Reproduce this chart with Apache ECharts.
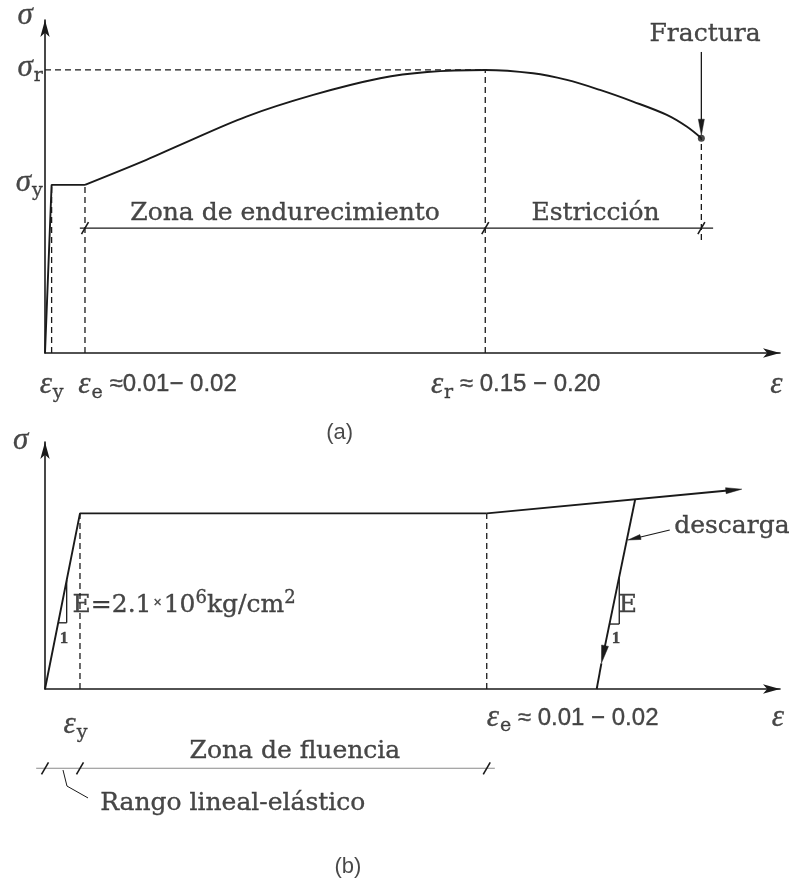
<!DOCTYPE html>
<html>
<head>
<meta charset="utf-8">
<script src="https://cdn.jsdelivr.net/npm/echarts@6/dist/echarts.min.js"></script>
<style>
  html, body { margin: 0; padding: 0; background: #ffffff; }
  #chart { width: 789px; height: 882px; }
</style>
</head>
<body>
<div id="chart"></div>
<script>
// ---------- Panel (a): full stress-strain curve of mild steel (schematic units 0..100) ----------
const epsYA = 0.9;      // yield strain
const epsEA = 5.44;     // end of yield plateau
const epsR = 59.9;      // strain at ultimate stress
const epsF = 89.3;      // strain at fracture
const sigYA = 50.5;     // yield stress
const sigR = 85.0;      // ultimate stress
const sigF = 64.5;      // stress at fracture

const elasticPlateauA = [[0, 0], [epsYA, sigYA], [epsEA, sigYA]];
const hardeningStrain = [epsEA, 13.8, 18.4, 27.4, 36.5, 45.6, 52.0, epsR];
const hardeningStress = [sigYA, 58.0, 62.5, 71.0, 77.5, 82.5, 84.4, sigR];
const neckingStrain = [66.4, 71.0, 75.5, 80.0, 84.6, 87.3, epsF];
const neckingStress = [84.0, 82.0, 79.0, 75.5, 71.5, 68.0, sigF];
const zoneLineA = 37.5;      // level of the zone dimension line
const fractureArrowTop = 90.4;
const fractureDashBottom = 33.9;

// ---------- Panel (b): elastic range and yield plateau, with unloading ----------
const epsYB = 4.76;
const epsEB = 60.1;
const sigYB = 71.1;
const reloadEnd = [94.8, 80.9];
const unloadStart = [80.3, 76.8];
const unloadArrowTip = [75.7, 10.4];
const unloadEnd = [75.06, 0];
const zoneLineB = -32.1;
const slopeLeft = [[1.80, 26.8], [2.95, 26.8], [2.95, 44.1]];
const slopeRight = [[76.87, 26.3], [78.13, 26.3], [78.13, 45.0]];
const descargaArrow = [[85.0, 64.4], [79.3, 60.3]];
const rangoLeader = [[2.45, -32.8], [2.99, -39.3], [5.85, -44.1]];

const INK = '#1a1a1a';
const SERIF = 'DejaVu Serif';

function pairsFrom(xs, ys) { return xs.map((x, i) => [x, ys[i]]); }
function segmentsOf(poly) {
  const out = [];
  for (let i = 0; i + 1 < poly.length; i++) out.push([poly[i][0], poly[i][1], poly[i + 1][0], poly[i + 1][1]]);
  return out;
}

// straight segments, optionally finished with a narrow arrow head
function segmentRenderer(lineStyle, head) {
  return function (params, api) {
    const a = api.coord([api.value(0), api.value(1)]);
    const b = api.coord([api.value(2), api.value(3)]);
    const children = [];
    let end = b;
    if (head) {
      const dx = b[0] - a[0], dy = b[1] - a[1];
      const len = Math.hypot(dx, dy) || 1;
      const ux = dx / len, uy = dy / len;
      const bx = b[0] - ux * head.len, by = b[1] - uy * head.len;
      const nx = -uy * head.w / 2, ny = ux * head.w / 2;
      children.push({
        type: 'polygon',
        shape: { points: [[b[0], b[1]], [bx + nx, by + ny], [bx - nx, by - ny]] },
        style: { fill: INK, stroke: INK, lineWidth: 0.5 }
      });
      end = [bx + ux * 2, by + uy * 2];
    }
    children.push({
      type: 'line',
      shape: { x1: a[0], y1: a[1], x2: end[0], y2: end[1] },
      style: Object.assign({ stroke: INK, fill: null }, lineStyle)
    });
    return { type: 'group', children: children };
  };
}

// short oblique strokes marking the ends of a dimension line
function slashRenderer(params, api) {
  const p = api.coord([api.value(0), api.value(1)]);
  return {
    type: 'line',
    shape: { x1: p[0] - 3.5, y1: p[1] + 6, x2: p[0] + 3.5, y2: p[1] - 6 },
    style: { stroke: INK, lineWidth: 1.6 }
  };
}

function segSeries(idx, data, lineStyle, head, z) {
  return {
    type: 'custom', xAxisIndex: idx, yAxisIndex: idx, silent: true, clip: false, z: z || 3,
    renderItem: segmentRenderer(lineStyle, head), data: data
  };
}

const ink = { color: INK, textBorderColor: INK, textBorderWidth: 0.35 };
const RICH = {
  g: Object.assign({ fontFamily: 'Liberation Serif', fontStyle: 'italic', fontSize: 31 }, ink),
  s: Object.assign({ fontFamily: SERIF, fontSize: 19, padding: [16, 0, 0, 1] }, ink),
  t: Object.assign({ fontFamily: SERIF, fontSize: 25 }, ink),
  n: Object.assign({ fontFamily: 'Liberation Sans', fontSize: 24 }, ink),
  sup: Object.assign({ fontFamily: SERIF, fontSize: 18, padding: [0, 0, 14, 0] }, ink),
  x: Object.assign({ fontFamily: 'Liberation Sans', fontSize: 14, padding: [0, 2, 4, 2] }, ink),
  one: Object.assign({ fontFamily: 'Liberation Serif', fontWeight: 'bold', fontSize: 17 }, ink),
  cap: { fontFamily: 'Liberation Sans', fontSize: 22, color: INK }
};

// annotation texts anchored in data space of each panel
const textsA = [
  { at: [-2.7, 101.2], text: '{g|σ}', align: 'center' },
  { at: [-0.3, sigR + 0.5], text: '{g|σ}{s|r}', align: 'right' },
  { at: [-0.3, sigYA + 0.5], text: '{g|σ}{s|y}', align: 'right' },
  { at: [epsYA, -9.5], text: '{g|ε}{s|y}', align: 'center' },
  { at: [epsEA - 0.9, -9.5], text: '{g|ε}{s|e}{n| ≈0.01− 0.02}', align: 'left' },
  { at: [epsR - 7.4, -9.5], text: '{g|ε}{s|r}{n| ≈ 0.15 − 0.20}', align: 'left' },
  { at: [99.5, -9.5], text: '{g|ε}', align: 'center' },
  { at: [(epsEA + epsR) / 2, 42.0], text: '{t|Zona de endurecimiento}', align: 'center' },
  { at: [(epsR + epsF) / 2 + 0.3, 42.0], text: '{t|Estricción}', align: 'center' },
  { at: [epsF + 0.5, 95.5], text: '{t|Fractura}', align: 'center' },
  { at: [40.1, -24.0], text: '{cap|(a)}', align: 'center' }
];
const textsB = [
  { at: [-3.3, 100.4], text: '{g|σ}', align: 'center' },
  { at: [epsYB - 0.6, -14.5], text: '{g|ε}{s|y}', align: 'center' },
  { at: [epsEB, -11.7], text: '{g|ε}{s|e}{n| ≈ 0.01 − 0.02}', align: 'left' },
  { at: [99.7, -11.7], text: '{g|ε}', align: 'center' },
  { at: [34.0, -25.5], text: '{t|Zona de fluencia}', align: 'center' },
  { at: [7.5, -46.2], text: '{t|Rango lineal-elástico}', align: 'left' },
  { at: [41.2, -72.1], text: '{cap|(b)}', align: 'center' },
  { at: [3.75, 34.0], text: '{t|E=2.1}{x|×}{t|10}{sup|6}{t|kg/cm}{sup|2}', align: 'left' },
  { at: [2.6, 20.6], text: '{one|1}', align: 'center' },
  { at: [79.3, 34.0], text: '{t|E}', align: 'center' },
  { at: [77.7, 20.6], text: '{one|1}', align: 'center' },
  { at: [85.6, 65.6], text: '{t|descarga}', align: 'left' }
];

function textSeries(idx, items) {
  return {
    type: 'scatter', xAxisIndex: idx, yAxisIndex: idx, symbolSize: 0, clip: false, silent: true, z: 6,
    data: items.map(d => ({
      value: d.at,
      label: {
        show: true, position: 'inside', formatter: d.text, align: d.align, verticalAlign: 'middle',
        color: INK, rich: RICH, textBorderWidth: 0
      }
    }))
  };
}

const axisLine = { show: true, symbol: ['none', 'arrow'], symbolSize: [7, 17], lineStyle: { color: INK, width: 1.6 } };
function xAxisFor(idx) {
  return { gridIndex: idx, type: 'value', min: 0, max: 100, axisLine: axisLine,
    axisTick: { show: false }, axisLabel: { show: false }, splitLine: { show: false } };
}
function yAxisFor(idx) {
  return { gridIndex: idx, type: 'value', min: 0, max: 100, axisLine: axisLine,
    axisTick: { show: false }, axisLabel: { show: false }, splitLine: { show: false } };
}

const solid = { lineWidth: 1.9 };
const dashed = { lineWidth: 1.3, lineDash: [6, 4] };
const thin = { lineWidth: 1.3 };
const headStyle = { len: 16, w: 6 };

const chart = echarts.init(document.getElementById('chart'), null, { renderer: 'canvas' });
chart.setOption({
  animation: false,
  backgroundColor: '#ffffff',
  grid: [
    { left: 45, top: 20, width: 735, height: 333 },
    { left: 45, top: 442, width: 735, height: 247 }
  ],
  xAxis: [xAxisFor(0), xAxisFor(1)],
  yAxis: [yAxisFor(0), yAxisFor(1)],
  series: [
    // panel (a)
    { type: 'line', xAxisIndex: 0, yAxisIndex: 0, data: elasticPlateauA, showSymbol: false, silent: true,
      lineStyle: { color: INK, width: 1.9 }, z: 4 },
    { type: 'line', xAxisIndex: 0, yAxisIndex: 0,
      data: pairsFrom(hardeningStrain, hardeningStress).concat(pairsFrom(neckingStrain, neckingStress)),
      smooth: 0.35, showSymbol: false, silent: true, lineStyle: { color: INK, width: 1.9 }, z: 4 },
    { type: 'scatter', xAxisIndex: 0, yAxisIndex: 0, data: [[epsF, sigF]], symbolSize: 7,
      itemStyle: { color: INK }, silent: true, z: 5 },
    segSeries(0, [
      [epsYA, 0, epsYA, sigYA],
      [epsEA, 0, epsEA, sigYA],
      [0, sigR, epsR, sigR],
      [epsR, 0, epsR, sigR],
      [epsF, fractureDashBottom, epsF, sigF]
    ], dashed),
    segSeries(0, [[epsEA - 0.7, zoneLineA, epsF + 1.6, zoneLineA]], thin),
    segSeries(0, [[epsF, fractureArrowTop, epsF, sigF + 0.9]], thin, headStyle),
    { type: 'custom', xAxisIndex: 0, yAxisIndex: 0, silent: true, clip: false, z: 5,
      renderItem: slashRenderer, data: [[epsEA, zoneLineA], [epsR, zoneLineA], [epsF, zoneLineA]] },
    textSeries(0, textsA),

    // panel (b)
    { type: 'line', xAxisIndex: 1, yAxisIndex: 1, data: [[0, 0], [epsYB, sigYB], [epsEB, sigYB]],
      showSymbol: false, silent: true, lineStyle: { color: INK, width: 1.9 }, z: 4 },
    segSeries(1, [[epsEB, sigYB, reloadEnd[0], reloadEnd[1]]], solid, headStyle),
    segSeries(1, [[unloadStart[0], unloadStart[1], unloadArrowTip[0], unloadArrowTip[1]]], solid, { len: 18, w: 7 }),
    segSeries(1, [[unloadArrowTip[0], unloadArrowTip[1], unloadEnd[0], unloadEnd[1]]], solid),
    segSeries(1, [[epsYB, 0, epsYB, sigYB], [epsEB, 0, epsEB, sigYB]], dashed),
    segSeries(1, segmentsOf(slopeLeft).concat(segmentsOf(slopeRight)), thin),
    segSeries(1, [[descargaArrow[0][0], descargaArrow[0][1], descargaArrow[1][0], descargaArrow[1][1]]], { lineWidth: 1.1 }, { len: 13, w: 5 }),
    segSeries(1, [[-1.2, zoneLineB, epsEB + 1.1, zoneLineB]], { lineWidth: 1.1, stroke: '#8a8a8a' }),
    segSeries(1, segmentsOf(rangoLeader), { lineWidth: 1.0 }),
    { type: 'custom', xAxisIndex: 1, yAxisIndex: 1, silent: true, clip: false, z: 5,
      renderItem: slashRenderer, data: [[0, zoneLineB], [epsYB, zoneLineB], [epsEB, zoneLineB]] },
    textSeries(1, textsB)
  ]
});
</script>
</body>
</html>
